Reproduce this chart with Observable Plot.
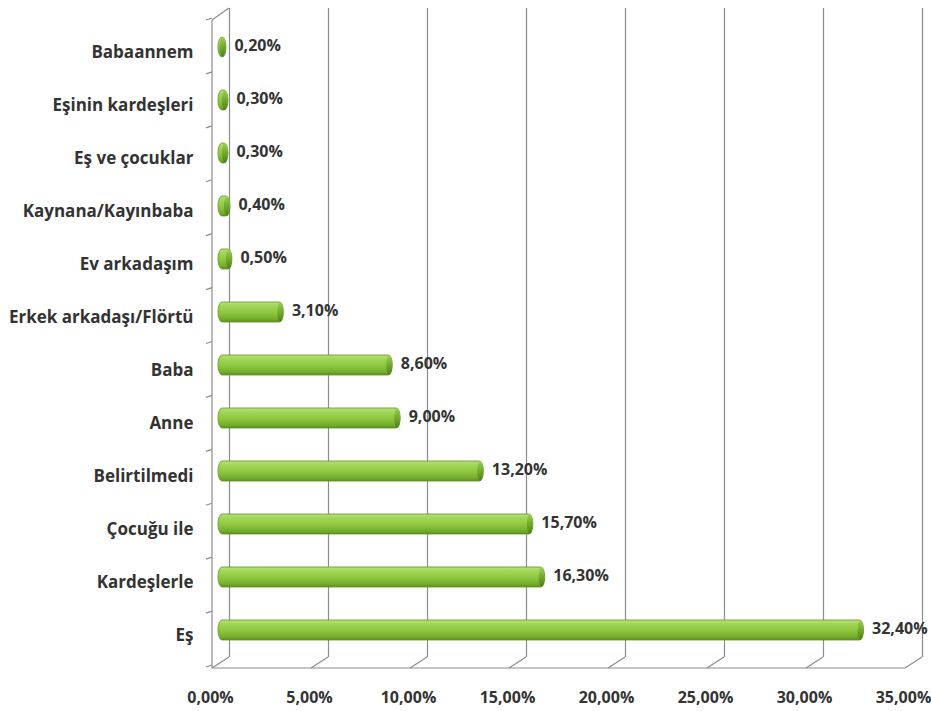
<!DOCTYPE html>
<html><head><meta charset="utf-8">
<script src="https://cdn.jsdelivr.net/npm/d3@7"></script>
<script src="https://cdn.jsdelivr.net/npm/@observablehq/plot@0.6"></script>
<style>html,body{margin:0;padding:0;background:#fff}</style>
</head><body><div id="chart"></div>
<script>
const categories = ["Babaannem","Eşinin kardeşleri","Eş ve çocuklar","Kaynana/Kayınbaba","Ev arkadaşım","Erkek arkadaşı/Flörtü","Baba","Anne","Belirtilmedi","Çocuğu ile","Kardeşlerle","Eş"];
const values = [0.2, 0.3, 0.3, 0.4, 0.5, 3.1, 8.6, 9.0, 13.2, 15.7, 16.3, 32.4];
const xTicks = [0, 5, 10, 15, 20, 25, 30, 35];

const data = categories.map((c, i) => ({category: c, value: values[i]}));
const fmt = v => v.toFixed(2).replace(".", ",") + "%";
const textColor = "#333333";
const gridColor = "#8c8c8c";
const font = "'Open Sans', Lato, sans-serif";

const chart = Plot.plot({
  width: 931,
  height: 711,
  marginLeft: 220,
  marginRight: 18,
  marginTop: 8,
  marginBottom: 54,
  style: {fontFamily: font, fontWeight: "bold", fontSize: "16px", color: textColor, background: "white", overflow: "visible"},
  x: {domain: [0, 35], axis: null},
  y: {domain: categories, range: [15, 662], paddingInner: 0.62, paddingOuter: 0.31, axis: null},
  marks: [
    Plot.ruleX(xTicks, {x: d => d, dx: 9, stroke: gridColor, strokeWidth: 1.2}),
    Plot.barX(data, {x: "value", y: "category", fill: "url(#barGrad)", stroke: "#5f9222", strokeWidth: 0.8, rx: 4, ry: 10, insetLeft: -2, insetRight: -2}),
    Plot.barX(data, {x1: "value", x2: "value", y: "category", fill: "url(#capGrad)", insetLeft: -4, insetRight: -2, rx: 3, ry: 10}),
    Plot.text(data, {x: "value", y: "category", text: d => fmt(d.value), dx: 10, dy: -2, textAnchor: "start", fill: textColor, fontSize: 16, fontWeight: "bold", fontFamily: font}),
    Plot.axisX(xTicks, {tickSize: 0, tickPadding: 34, tickFormat: fmt, dx: -10, label: null, fill: textColor, fontSize: 16, fontWeight: "bold", fontFamily: font}),
    Plot.axisY({tickSize: 0, tickPadding: 27, dy: 5, label: null, fill: textColor, fontSize: 17, fontWeight: "bold", fontFamily: font})
  ]
});

const svg = d3.select(chart);
const defs = svg.insert("defs", ":first-child");
const g1 = defs.append("linearGradient").attr("id", "barGrad").attr("x1", 0).attr("y1", 0).attr("x2", 0).attr("y2", 1);
[[0, "#b9e27a"], [0.18, "#a3d75a"], [0.55, "#8cc63f"], [0.85, "#74ad2c"], [1, "#5b8e1e"]].forEach(([o, c]) => g1.append("stop").attr("offset", o).attr("stop-color", c));
const g2 = defs.append("linearGradient").attr("id", "capGrad").attr("x1", 0).attr("y1", 0).attr("x2", 0).attr("y2", 1);
[[0, "#9ccf52"], [0.5, "#73aa2c"], [1, "#4f7f19"]].forEach(([o, c]) => g2.append("stop").attr("offset", o).attr("stop-color", c));

// 3D wall/floor decoration via the plot's own x scale
const xs = chart.scale("x");
const sx = d3.scaleLinear(xs.domain, xs.range);
const deco = svg.insert("g", "g").attr("stroke", gridColor).attr("stroke-width", 1.2).attr("fill", "none");
const backBottom = 711 - 54, frontBottom = 668, fdx = -8, bdx = 9;
xTicks.forEach(t => {
  deco.append("line").attr("x1", sx(t) + bdx).attr("y1", backBottom).attr("x2", sx(t) + fdx).attr("y2", frontBottom);
});
deco.append("line").attr("x1", sx(0) + fdx).attr("y1", frontBottom).attr("x2", sx(35) + fdx).attr("y2", frontBottom);
deco.append("line").attr("x1", sx(0) + fdx).attr("y1", 20).attr("x2", sx(0) + fdx).attr("y2", frontBottom);
deco.append("line").attr("x1", sx(0) + fdx).attr("y1", 20).attr("x2", sx(0) + bdx).attr("y2", 8);
const step = (662 - 15) / categories.length;
for (let k = 0; k <= categories.length; k++) {
  const yy = 15 + k * step + 4;
  deco.append("line").attr("x1", sx(0) + fdx - 6).attr("y1", yy + 1).attr("x2", sx(0) + fdx).attr("y2", yy - 1);
}

document.getElementById("chart").appendChild(chart);
</script>
</body></html>
